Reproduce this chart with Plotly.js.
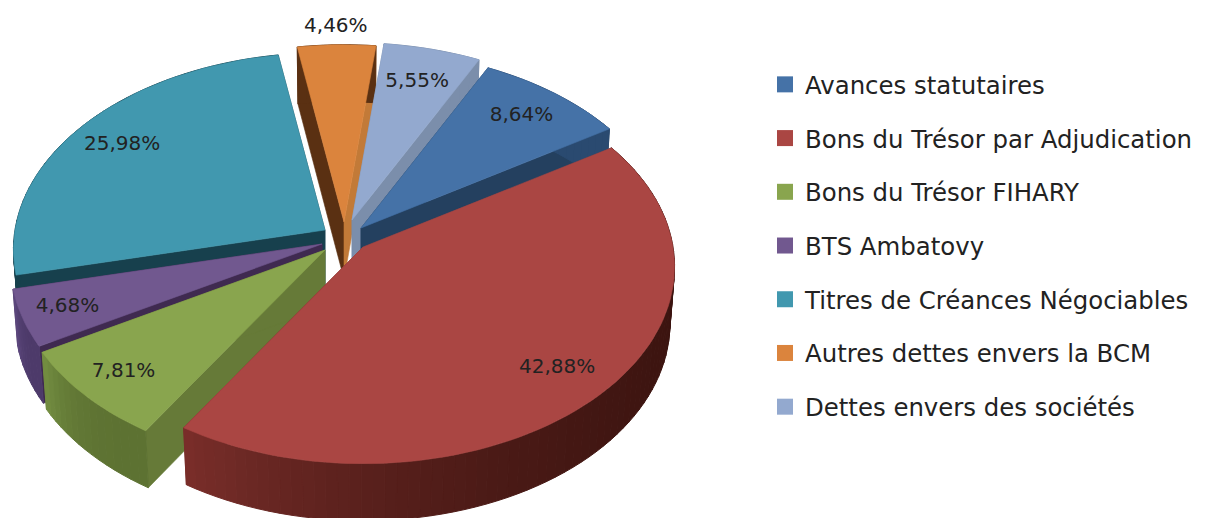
<!DOCTYPE html>
<html><head><meta charset="utf-8">
<script src="https://cdn.plot.ly/plotly-3.0.1.min.js"></script>
<style>html,body{margin:0;padding:0;background:#fff}#chart{width:1205px;height:518px}</style>
</head><body><div id="chart"></div>
<script>
// ---- data
const categories = ["Avances statutaires","Bons du Trésor par Adjudication","Bons du Trésor FIHARY","BTS Ambatovy","Titres de Créances Négociables","Autres dettes envers la BCM","Dettes envers des sociétés"];
const shares = [8.64,42.88,7.81,4.68,25.98,4.46,5.55];
const shareLabels = ["8,64%","42,88%","7,81%","4,68%","25,98%","4,46%","5,55%"];
// ---- style
const topColors = ["#4572A7","#AA4643","#89A54E","#71588F","#4198AF","#DB843D","#93A9CF"];
const startFaceColors = ["#24405f","#24405f","#667a38","#3f2a50","#17404d","#5a3012","#7b8eab"];
const endFaceColors = ["#24405f","#7a2e2a","#667a38","#3f2a50","#17404d","#c27a38","#7b8eab"];
const rimFrom = ["#2a4a70","#7a2e2a","#748f42","#5f4a80","#17404d","#5a3012","#7b8eab"];
const rimTo = ["#2a4a70","#3a130f","#5d7232","#4d3a6a","#17404d","#5a3012","#7b8eab"];
// ---- 3D pie geometry
const firstAngle = 26.5, rx = 310, ry = 195, persp = 0.1, depth = 57, lowerScale = 0.985;
const center = [345, 238];
const explodeX = [16, 18, -20, -23, -20, -1, 7];
const explodeY = [-10, 9, 12, 6, -8, -16, -18];
const labelFrac = [0.83, 0.82, 0.84, 0.85, 0.83, 1.1, 0.81];
const drawOrder = [5, 6, 0, 4, 3, 2, 1];

function project(tip, deg, f) {
  const t = deg * Math.PI / 180, X = Math.sin(t), Y = -Math.cos(t), s = 1 / (1 - persp * Y);
  return [tip[0] + f * rx * X * s, tip[1] + f * ry * Y * s];
}
function lower(tip, p) { return [tip[0] + (p[0] - tip[0]) * lowerScale, p[1] + depth]; }
function hex2rgb(h){return [1,3,5].map(i=>parseInt(h.substr(i,2),16));}
function mix(a,b,u){const A=hex2rgb(a),B=hex2rgb(b);return "rgb("+A.map((v,i)=>Math.round(v+(B[i]-v)*u)).join(",")+")";}
function poly(points, color, width) {
  return {type:"scatter",mode:"lines",x:points.map(p=>p[0]).concat(points[0][0]),y:points.map(p=>p[1]).concat(points[0][1]),
    fill:"toself",fillcolor:color,line:{color:color,width:width||0.6},hoverinfo:"skip",showlegend:false};
}
let acc = firstAngle;
const ranges = shares.map(v => { const a = acc; acc += v * 3.6; return [a, acc]; });
const tips = shares.map((_, i) => [center[0] + explodeX[i], center[1] + explodeY[i]]);

const traces = [];
drawOrder.forEach(i => {
  const tip = tips[i], [a, b] = ranges[i], low = lower(tip, tip);
  const pa = project(tip, a, 1), pb = project(tip, b, 1);
  traces.push(poly([tip, pa, lower(tip, pa), low], startFaceColors[i]));
  traces.push(poly([tip, pb, lower(tip, pb), low], endFaceColors[i]));
  const n = Math.max(2, Math.ceil((b - a) / 2));
  for (let k = 0; k < n; k++) {
    const a0 = a + (b - a) * k / n, a1 = a + (b - a) * (k + 1) / n;
    const pts = [project(tip, a0, 1), project(tip, a1, 1)];
    const low2 = pts.slice().reverse().map(p => lower(tip, p));
    traces.push(poly(pts.concat(low2), mix(rimTo[i], rimFrom[i], Math.pow((k + 0.5) / n, 3)), 1));
  }
  const top = [tip];
  const m = Math.ceil((b - a) / 2);
  for (let k = 0; k <= m; k++) top.push(project(tip, a + (b - a) * k / m, 1));
  traces.push(poly(top, topColors[i]));
});

const labelPts = shares.map((_, i) => project(tips[i], (ranges[i][0] + ranges[i][1]) / 2, labelFrac[i]));
traces.push({type:"scatter",mode:"text",x:labelPts.map(p=>p[0]),y:labelPts.map(p=>p[1]),text:shareLabels,
  textposition:"middle center",textfont:{family:"DejaVu Sans, sans-serif",size:20,color:"#222"},hoverinfo:"skip",showlegend:false});

categories.forEach((c, i) => traces.push({type:"scatter",mode:"markers",name:c,legendgroup:c,x:[null],y:[null],
  marker:{symbol:"square",size:16,color:topColors[i]},showlegend:true}));

const layout = {
  width:1205,height:518,margin:{l:0,r:0,t:0,b:0},paper_bgcolor:"#fff",plot_bgcolor:"#fff",
  xaxis:{range:[0,1205],visible:false,fixedrange:true},
  yaxis:{range:[518,0],visible:false,fixedrange:true},
  showlegend:true,
  legend:{x:765/1205,xanchor:"left",y:1-62/518,yanchor:"top",traceorder:"grouped",tracegroupgap:19,
    font:{family:"DejaVu Sans, sans-serif",size:24.4,color:"#222"},bgcolor:"rgba(0,0,0,0)"}
};
Plotly.newPlot("chart",traces,layout,{displayModeBar:false,staticPlot:true});
</script></body></html>
